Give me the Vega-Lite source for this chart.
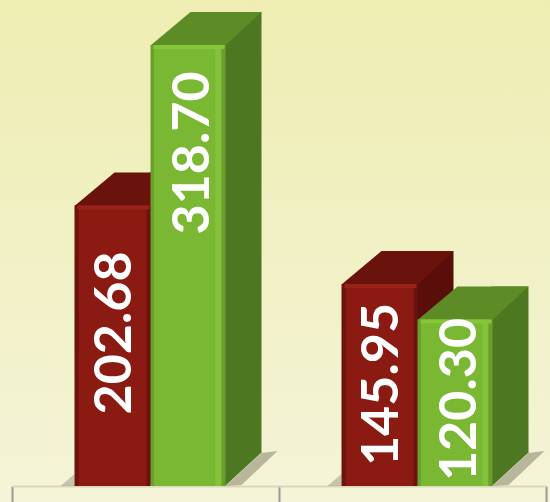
{
  "$schema": "https://vega.github.io/schema/vega-lite/v6.json",
  "width": 550,
  "height": 502,
  "padding": 0,
  "autosize": {"type": "none"},
  "background": "#F2F1C8",
  "config": {
    "view": {
      "stroke": null,
      "fill": {
        "gradient": "linear", "x1": 0, "y1": 0, "x2": 0, "y2": 1,
        "stops": [{"offset": 0, "color": "#EEEDB2"}, {"offset": 1, "color": "#F4F4D8"}]
      }
    }
  },
  "data": {
    "values": [
      {"category": "Group 1", "series": "Red", "value": 202.68},
      {"category": "Group 1", "series": "Green", "value": 318.70},
      {"category": "Group 2", "series": "Red", "value": 145.95},
      {"category": "Group 2", "series": "Green", "value": 120.30}
    ]
  },
  "encoding": {
    "x": {
      "field": "category", "type": "nominal", "sort": null,
      "scale": {"range": [12, 546], "paddingInner": 0, "paddingOuter": 0},
      "axis": {
        "labels": false, "title": null, "grid": false, "tickBand": "extent",
        "domainColor": "#D9D8BF", "domainWidth": 2,
        "tickColor": "#9A9A90", "tickWidth": 2, "tickSize": 16, "offset": -16
      }
    }
  },
  "resolve": {"scale": {"y": "independent"}},
  "layer": [
    {
      "layer": [
        {
          "transform": [{"filter": "datum.series === 'Red'"}],
          "mark": {"type": "point", "shape": "M -0.71 0 L -0.71 -0.12 L -0.85 0 Z", "size": 40000, "filled": true, "opacity": 0.35, "color": "#6f6d55", "strokeWidth": 0},
          "encoding": {"y": {"datum": 0, "type": "quantitative", "scale": {"domain": [0, 351.2], "range": [486, 0], "nice": false}, "axis": null}}
        },
        {
          "transform": [{"filter": "datum.series === 'Red'"}],
          "mark": {"type": "bar", "width": 37, "xOffset": 22.5, "yOffset": -33, "y2Offset": -33, "color": "#5A0E09"},
          "encoding": {
            "y": {"field": "value", "type": "quantitative", "scale": {"domain": [0, 351.2], "range": [486, 0], "nice": false}, "axis": null},
            "y2": {"datum": 0}
          }
        },
        {
          "transform": [{"filter": "datum.series === 'Red'"}],
          "mark": {"type": "point", "shape": "M 0.045 -0.335 L 0.41 -0.335 L 0.045 0 Z", "size": 40000, "filled": true, "opacity": 1, "color": "#5A0E09", "strokeWidth": 0},
          "encoding": {"y": {"datum": 0, "type": "quantitative", "axis": null}}
        },
        {
          "transform": [{"filter": "datum.series === 'Red'"}],
          "mark": {"type": "point", "shape": "M -0.71 0.005 L 0.05 0.005 L 0.41 -0.33 L -0.31 -0.33 Z", "size": 40000, "filled": true, "opacity": 1, "color": "#6A120C", "strokeWidth": 0},
          "encoding": {"y": {"field": "value", "type": "quantitative", "axis": null}}
        },
        {
          "transform": [{"filter": "datum.series === 'Red'"}],
          "mark": {
            "type": "bar", "width": 76, "xOffset": -33,
            "color": {
              "gradient": "linear", "x1": 0, "y1": 0, "x2": 1, "y2": 0,
              "stops": [
                {"offset": 0, "color": "#6C130D"}, {"offset": 0.05, "color": "#6C130D"},
                {"offset": 0.06, "color": "#8A1A12"}, {"offset": 0.94, "color": "#8A1A12"},
                {"offset": 0.96, "color": "#6A120C"}, {"offset": 1, "color": "#6A120C"}
              ]
            }
          },
          "encoding": {
            "y": {"field": "value", "type": "quantitative", "axis": null},
            "y2": {"datum": 0}
          }
        },
        {
          "transform": [{"filter": "datum.series === 'Red'"}],
          "mark": {"type": "bar", "width": 72, "xOffset": -32, "y2Offset": 4, "color": "#9A2318"},
          "encoding": {
            "y": {"field": "value", "type": "quantitative", "axis": null},
            "y2": {"field": "value"}
          }
        },
        {
          "transform": [{"filter": "datum.series === 'Green'"}],
          "mark": {"type": "point", "shape": "M 1.16 -0.33 L 1.32 -0.35 L 0.96 -0.01 L 0.80 0 Z", "size": 40000, "filled": true, "opacity": 0.45, "color": "#6f6d55", "strokeWidth": 0},
          "encoding": {"y": {"datum": 0, "type": "quantitative", "axis": null}}
        },
        {
          "transform": [{"filter": "datum.series === 'Green'"}],
          "mark": {"type": "bar", "width": 37, "xOffset": 97.5, "yOffset": -33, "y2Offset": -33, "color": "#4E7721"},
          "encoding": {
            "y": {"field": "value", "type": "quantitative", "axis": null},
            "y2": {"datum": 0}
          }
        },
        {
          "transform": [{"filter": "datum.series === 'Green'"}],
          "mark": {"type": "point", "shape": "M 0.795 -0.335 L 1.16 -0.335 L 0.795 0 Z", "size": 40000, "filled": true, "opacity": 1, "color": "#4E7721", "strokeWidth": 0},
          "encoding": {"y": {"datum": 0, "type": "quantitative", "axis": null}}
        },
        {
          "transform": [{"filter": "datum.series === 'Green'"}],
          "mark": {"type": "point", "shape": "M 0.05 0.005 L 0.80 0.005 L 1.16 -0.33 L 0.45 -0.33 Z", "size": 40000, "filled": true, "opacity": 1, "color": "#5D8B26", "strokeWidth": 0},
          "encoding": {"y": {"field": "value", "type": "quantitative", "axis": null}}
        },
        {
          "transform": [{"filter": "datum.series === 'Green'"}],
          "mark": {
            "type": "bar", "width": 75, "xOffset": 42.5,
            "color": {
              "gradient": "linear", "x1": 0, "y1": 0, "x2": 1, "y2": 0,
              "stops": [
                {"offset": 0, "color": "#69A02B"}, {"offset": 0.04, "color": "#69A02B"},
                {"offset": 0.05, "color": "#7AB833"}, {"offset": 0.86, "color": "#7AB833"},
                {"offset": 0.87, "color": "#84C23C"}, {"offset": 0.94, "color": "#84C23C"},
                {"offset": 0.95, "color": "#6C9E2D"}, {"offset": 1, "color": "#6C9E2D"}
              ]
            }
          },
          "encoding": {
            "y": {"field": "value", "type": "quantitative", "axis": null},
            "y2": {"datum": 0}
          }
        },
        {
          "transform": [{"filter": "datum.series === 'Green'"}],
          "mark": {"type": "bar", "width": 71, "xOffset": 43.5, "y2Offset": 4, "color": "#86C63A"},
          "encoding": {
            "y": {"field": "value", "type": "quantitative", "axis": null},
            "y2": {"field": "value"}
          }
        }
      ]
    },
    {
      "resolve": {"scale": {"y": "independent"}},
      "layer": [
        {
          "transform": [{"filter": "datum.series === 'Red'"}],
          "mark": {"type": "text", "angle": 270, "align": "center", "baseline": "middle", "font": "Lato", "fontWeight": "bold", "fontSize": 52, "color": "#FFFFFF", "xOffset": -31, "yOffset": 31},
          "encoding": {
            "y": {"field": "value", "type": "quantitative", "scale": {"domain": [0, 535.2], "range": [486, 0], "nice": false}, "axis": null},
            "text": {"field": "value", "type": "quantitative", "format": ".2f"}
          }
        },
        {
          "transform": [{"filter": "datum.series === 'Green'"}],
          "mark": {"type": "text", "angle": 270, "align": "center", "baseline": "middle", "font": "Lato", "fontWeight": "bold", "fontSize": 52, "color": "#FFFFFF", "xOffset": 47, "yOffset": 63},
          "encoding": {
            "y": {"field": "value", "type": "quantitative", "scale": {"domain": [0, 391.1], "range": [486, 0], "nice": false}, "axis": null},
            "text": {"field": "value", "type": "quantitative", "format": ".2f"}
          }
        }
      ]
    }
  ]
}
